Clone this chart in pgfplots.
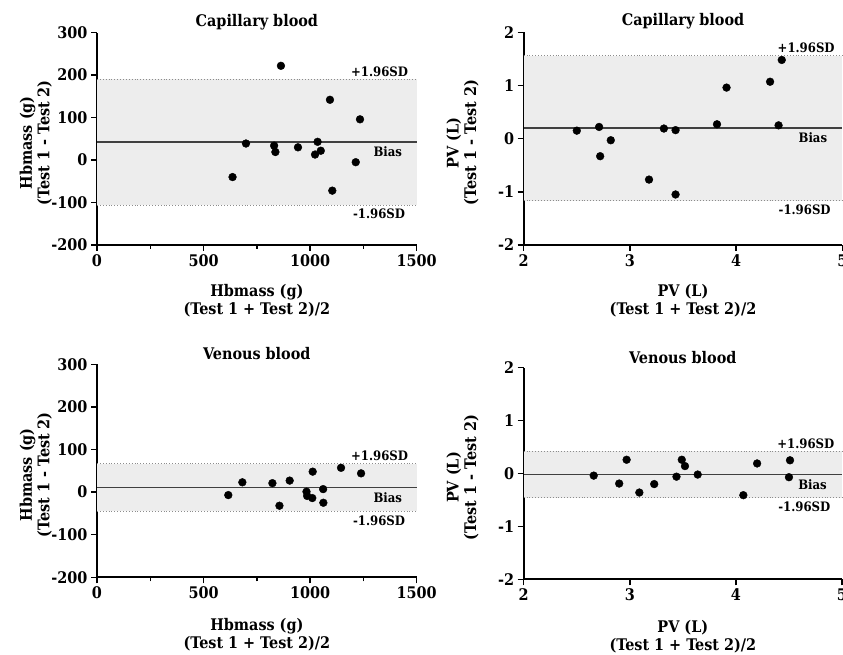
\documentclass[border=0pt]{standalone}
\usepackage{pgfplots}
\pgfplotsset{compat=1.18}
\usepackage{fontspec}
\setmainfont{DejaVu Serif Condensed}
\definecolor{band}{HTML}{EDEDED}
\definecolor{sdline}{HTML}{8C8C8C}
\definecolor{biasline}{HTML}{404040}
\pgfplotsset{
  ba/.style={
    scale only axis,
    anchor=south west,
    axis lines=left,
    axis line style={-, line width=1.7bp, black},
    tick align=outside,
    major tick length=6bp,
    minor tick length=4bp,
    every tick/.style={line width=1.5bp, black},
    tick label style={font=\fontsize{16bp}{16bp}\selectfont\bfseries},
    /pgf/number format/assume math mode=true,
    /pgf/number format/1000 sep={},
    clip=false,
    enlargelimits=false,
  },
  pts/.style={only marks, mark=*, mark size=3.9bp, mark options={fill=black, draw=black}},
}
\tikzset{
  lbl/.style={font=\fontsize{13bp}{14bp}\selectfont\bfseries, inner sep=0pt},
  ttl/.style={font=\fontsize{16bp}{16bp}\selectfont\bfseries, inner sep=0pt, anchor=base},
  axl/.style={font=\fontsize{16bp}{17.5bp}\selectfont\bfseries, inner sep=0pt, align=center},
}
\begin{document}
\begin{tikzpicture}
% ---------- Panel 1: Hbmass capillary ----------
\begin{axis}[ba, at={(97bp,410bp)}, width=319.7bp, height=212.3bp,
  xmin=0, xmax=1500, ymin=-200, ymax=300,
  xtick={0,500,1000,1500}, minor xtick={250,750,1250},
  ytick={-200,-100,0,100,200,300}]
\addplot[fill=band, draw=none] coordinates {(0,-106) (1500,-106) (1500,190) (0,190)} -- cycle;
\addplot[sdline, dotted, line width=0.9bp] coordinates {(0,190) (1500,190)};
\addplot[sdline, dotted, line width=0.9bp] coordinates {(0,-106) (1500,-106)};
\addplot[biasline, line width=1.1bp] coordinates {(0,42.5) (1500,42.5)};
\addplot[pts] coordinates {
(636,-40) (699,39) (831,34) (837,19) (863,222) (943,30) (1023,13)
(1035,43) (1050,22) (1093,142) (1104,-72) (1214,-5) (1234,96)};
\node[lbl, anchor=base east] at ([xshift=-8.5bp, yshift=3bp]axis cs:1500,190) {+1.96SD};
\node[lbl, anchor=base east] at ([xshift=-14.5bp, yshift=-14.5bp]axis cs:1500,42.5) {Bias};
\node[lbl, anchor=base east] at ([xshift=-11.5bp, yshift=-13.8bp]axis cs:1500,-106) {-1.96SD};
\node[ttl] at ([yshift=5.7bp]rel axis cs:0.5,1) {Capillary blood};
\node[axl, anchor=north] at ([yshift=-39.5bp]rel axis cs:0.5,0) {Hbmass (g)\\(Test 1 + Test 2)/2};
\node[axl, anchor=south, rotate=90] at ([xshift=-45bp, yshift=-4bp]rel axis cs:0,0.5) {Hbmass (g)\\(Test 1 - Test 2)};
\end{axis}
% ---------- Panel 2: PV capillary ----------
\begin{axis}[ba, at={(523.7bp,410bp)}, width=318.6bp, height=212.7bp,
  xmin=2, xmax=5, ymin=-2, ymax=2,
  xtick={2,3,4,5}, ytick={-2,-1,0,1,2}]
\addplot[fill=band, draw=none] coordinates {(2,-1.17) (5,-1.17) (5,1.56) (2,1.56)} -- cycle;
\addplot[sdline, dotted, line width=0.9bp] coordinates {(2,1.56) (5,1.56)};
\addplot[sdline, dotted, line width=0.9bp] coordinates {(2,-1.17) (5,-1.17)};
\addplot[biasline, line width=1.1bp] coordinates {(2,0.2) (5,0.2)};
\addplot[pts] coordinates {
(2.50,0.15) (2.71,0.22) (2.72,-0.33) (2.82,-0.03) (3.18,-0.77) (3.32,0.19) (3.43,0.16)
(3.43,-1.05) (3.82,0.27) (3.91,0.96) (4.32,1.07) (4.40,0.25) (4.43,1.48)};
\node[lbl, anchor=base east] at ([xshift=-7.5bp, yshift=3bp]axis cs:5,1.56) {+1.96SD};
\node[lbl, anchor=base east] at ([xshift=-15bp, yshift=-14.5bp]axis cs:5,0.2) {Bias};
\node[lbl, anchor=base east] at ([xshift=-11.5bp, yshift=-13.8bp]axis cs:5,-1.17) {-1.96SD};
\node[ttl] at ([yshift=6.3bp]rel axis cs:0.5,1) {Capillary blood};
\node[axl, anchor=north] at ([yshift=-39.5bp]rel axis cs:0.5,0) {PV (L)\\(Test 1 + Test 2)/2};
\node[axl, anchor=south, rotate=90] at ([xshift=-45bp, yshift=-4bp]rel axis cs:0,0.5) {PV (L)\\(Test 1 - Test 2)};
\end{axis}
% ---------- Panel 3: Hbmass venous ----------
\begin{axis}[ba, at={(97bp,77.7bp)}, width=319.7bp, height=213bp,
  xmin=0, xmax=1500, ymin=-200, ymax=300,
  xtick={0,500,1000,1500}, minor xtick={250,750,1250},
  ytick={-200,-100,0,100,200,300}]
\addplot[fill=band, draw=none] coordinates {(0,-45.5) (1500,-45.5) (1500,66.5) (0,66.5)} -- cycle;
\addplot[sdline, dotted, line width=0.9bp] coordinates {(0,66.5) (1500,66.5)};
\addplot[sdline, dotted, line width=0.9bp] coordinates {(0,-45.5) (1500,-45.5)};
\addplot[biasline, line width=1.1bp] coordinates {(0,10.5) (1500,10.5)};
\addplot[pts] coordinates {
(616,-7) (682,23) (823,21) (856,-32) (904,27) (983,1) (986,-9)
(1010,-14) (1012,48) (1061,7) (1062,-25) (1145,57) (1239,44)};
\node[lbl, anchor=base east] at ([xshift=-8.5bp, yshift=3bp]axis cs:1500,66.5) {+1.96SD};
\node[lbl, anchor=base east] at ([xshift=-14.5bp, yshift=-14.5bp]axis cs:1500,10.5) {Bias};
\node[lbl, anchor=base east] at ([xshift=-11.5bp, yshift=-13.8bp]axis cs:1500,-45.5) {-1.96SD};
\node[ttl] at ([yshift=4.3bp]rel axis cs:0.5,1) {Venous blood};
\node[axl, anchor=north] at ([yshift=-41bp]rel axis cs:0.5,0) {Hbmass (g)\\(Test 1 + Test 2)/2};
\node[axl, anchor=south, rotate=90] at ([xshift=-45bp, yshift=-4bp]rel axis cs:0,0.5) {Hbmass (g)\\(Test 1 - Test 2)};
\end{axis}
% ---------- Panel 4: PV venous ----------
\begin{axis}[ba, at={(523.7bp,75.7bp)}, width=318.3bp, height=211.6bp,
  xmin=2, xmax=5, ymin=-2, ymax=2,
  xtick={2,3,4,5}, ytick={-2,-1,0,1,2}]
\addplot[fill=band, draw=none] coordinates {(2,-0.46) (5,-0.46) (5,0.42) (2,0.42)} -- cycle;
\addplot[sdline, dotted, line width=0.9bp] coordinates {(2,0.42) (5,0.42)};
\addplot[sdline, dotted, line width=0.9bp] coordinates {(2,-0.46) (5,-0.46)};
\addplot[biasline, line width=1.1bp] coordinates {(2,-0.02) (5,-0.02)};
\addplot[pts] coordinates {
(2.66,-0.04) (2.90,-0.19) (2.97,0.26) (3.09,-0.36) (3.23,-0.20) (3.44,-0.06) (3.49,0.26)
(3.52,0.14) (3.64,-0.02) (4.07,-0.41) (4.20,0.19) (4.50,-0.07) (4.51,0.25)};
\node[lbl, anchor=base east] at ([xshift=-7.5bp, yshift=3bp]axis cs:5,0.42) {+1.96SD};
\node[lbl, anchor=base east] at ([xshift=-15bp, yshift=-14.5bp]axis cs:5,-0.02) {Bias};
\node[lbl, anchor=base east] at ([xshift=-11.5bp, yshift=-13.8bp]axis cs:5,-0.46) {-1.96SD};
\node[ttl] at ([yshift=4.4bp]rel axis cs:0.5,1) {Venous blood};
\node[axl, anchor=north] at ([yshift=-41bp]rel axis cs:0.5,0) {PV (L)\\(Test 1 + Test 2)/2};
\node[axl, anchor=south, rotate=90] at ([xshift=-45bp, yshift=-4bp]rel axis cs:0,0.5) {PV (L)\\(Test 1 - Test 2)};
\end{axis}
\pgfresetboundingbox
\path[use as bounding box] (0,0) rectangle (843bp,655bp);
\end{tikzpicture}
\end{document}
